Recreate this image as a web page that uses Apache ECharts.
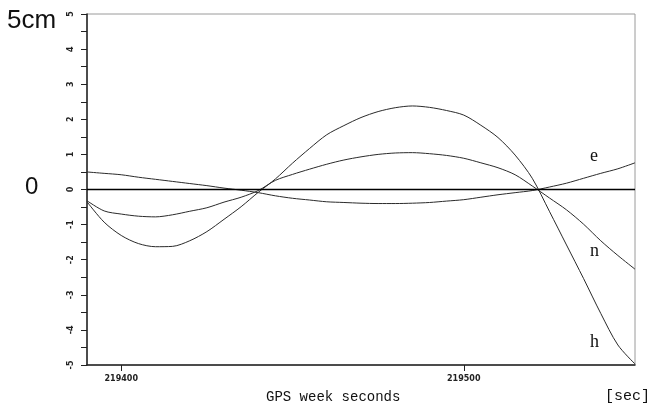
<!DOCTYPE html>
<html>
<head>
<meta charset="utf-8">
<script src="https://cdn.jsdelivr.net/npm/echarts@6/dist/echarts.min.js"></script>
<style>
html,body{margin:0;padding:0;background:#fff;}
#c{width:664px;height:407px;}
</style>
</head>
<body>
<div id="c"></div>
<script>
var times = [219390, 219395, 219400, 219405, 219410, 219415, 219420, 219425, 219430, 219435, 219440, 219445, 219450, 219455, 219460, 219465, 219470, 219475, 219480, 219485, 219490, 219495, 219500, 219505, 219510, 219515, 219520, 219525, 219530, 219535, 219540, 219545, 219550];
var eVals = [0.50, 0.46, 0.42, 0.35, 0.29, 0.23, 0.17, 0.11, 0.04, -0.02, -0.09, -0.18, -0.25, -0.30, -0.35, -0.37, -0.39, -0.40, -0.40, -0.39, -0.37, -0.33, -0.29, -0.22, -0.15, -0.09, -0.03, 0.07, 0.18, 0.32, 0.46, 0.59, 0.76];
var nVals = [-0.32, -0.61, -0.70, -0.76, -0.78, -0.72, -0.62, -0.52, -0.36, -0.22, -0.03, 0.26, 0.43, 0.58, 0.72, 0.84, 0.93, 1.00, 1.04, 1.05, 1.02, 0.97, 0.89, 0.76, 0.62, 0.42, 0.10, -0.24, -0.58, -0.99, -1.46, -1.88, -2.27];
var hVals = [-0.35, -0.93, -1.31, -1.54, -1.63, -1.62, -1.46, -1.20, -0.85, -0.49, -0.08, 0.30, 0.75, 1.17, 1.56, 1.82, 2.05, 2.22, 2.33, 2.38, 2.34, 2.25, 2.12, 1.83, 1.48, 0.98, 0.32, -0.62, -1.58, -2.54, -3.53, -4.43, -4.97];
var yTicks = [-5, -4, -3, -2, -1, 0, 1, 2, 3, 4, 5];
var xTickLabels = [219400, 219500];
var seriesNames = ['e', 'n', 'h'];

function pairs(v){ return times.map(function(t,i){ return [t, v[i]]; }); }

var chart = echarts.init(document.getElementById('c'), null, {renderer:'canvas'});
var lineStyle = {color:'#2a2a2a', width:1};
chart.setOption({
  animation:false,
  grid:{left:87, right:29, top:14, bottom:42, show:true, borderColor:'#9a9a9a', borderWidth:1},
  xAxis:{
    type:'value', min:219390, max:219550, interval:10,
    axisLine:{show:true, onZero:false, lineStyle:{color:'#222', width:1.5}},
    axisTick:{show:true, customValues:xTickLabels, length:6, lineStyle:{color:'#222'}},
    axisLabel:{show:true, customValues:xTickLabels, fontSize:8, fontWeight:'bold', color:'#222', margin:10, fontFamily:'DejaVu Sans',
      formatter:function(v){ return String(v); }},
    splitLine:{show:false}
  },
  yAxis:{
    type:'value', min:-5, max:5, interval:1,
    axisLine:{show:true, onZero:false, lineStyle:{color:'#222', width:1.5}},
    axisTick:{show:true, length:6, lineStyle:{color:'#222'}},
    minorTick:{show:true, splitNumber:2, length:6, lineStyle:{color:'#222'}},
    axisLabel:{show:true, rotate:90, fontSize:8, fontWeight:'bold', color:'#222', margin:12, fontFamily:'DejaVu Sans',
      formatter:function(v){ return yTicks.indexOf(v) >= 0 ? String(v) : ''; }},
    splitLine:{show:false}
  },
  graphic:[
    {type:'text', left:7, top:8, style:{text:'5cm', font:'26px "Liberation Sans", Arial, sans-serif', fill:'#111'}},
    {type:'text', left:25, top:175, style:{text:'0', font:'24px "Liberation Sans", Arial, sans-serif', fill:'#111'}},
    {type:'text', left:266, top:390, style:{text:'GPS week seconds', font:'14px "Liberation Mono", "DejaVu Sans Mono", monospace', fill:'#111'}},
    {type:'text', left:605, top:389, style:{text:'[sec]', font:'15px "Liberation Mono", "DejaVu Sans Mono", monospace', fill:'#111'}},
    {type:'text', left:590, top:147, style:{text:'e', font:'18px "Liberation Serif", "DejaVu Serif", serif', fill:'#111'}},
    {type:'text', left:590, top:242, style:{text:'n', font:'18px "Liberation Serif", "DejaVu Serif", serif', fill:'#111'}},
    {type:'text', left:590, top:333, style:{text:'h', font:'18px "Liberation Serif", "DejaVu Serif", serif', fill:'#111'}}
  ],
  series:[
    {name:seriesNames[0], type:'line', data:pairs(eVals), smooth:0.3, showSymbol:false, lineStyle:lineStyle,
     markLine:{silent:true, symbol:['none','none'], label:{show:false}, lineStyle:{color:'#000', width:1.3, type:'solid'}, data:[{yAxis:0}]}},
    {name:seriesNames[1], type:'line', data:pairs(nVals), smooth:0.3, showSymbol:false, lineStyle:lineStyle},
    {name:seriesNames[2], type:'line', data:pairs(hVals), smooth:0.3, showSymbol:false, lineStyle:lineStyle}
  ]
});
</script>
</body>
</html>
